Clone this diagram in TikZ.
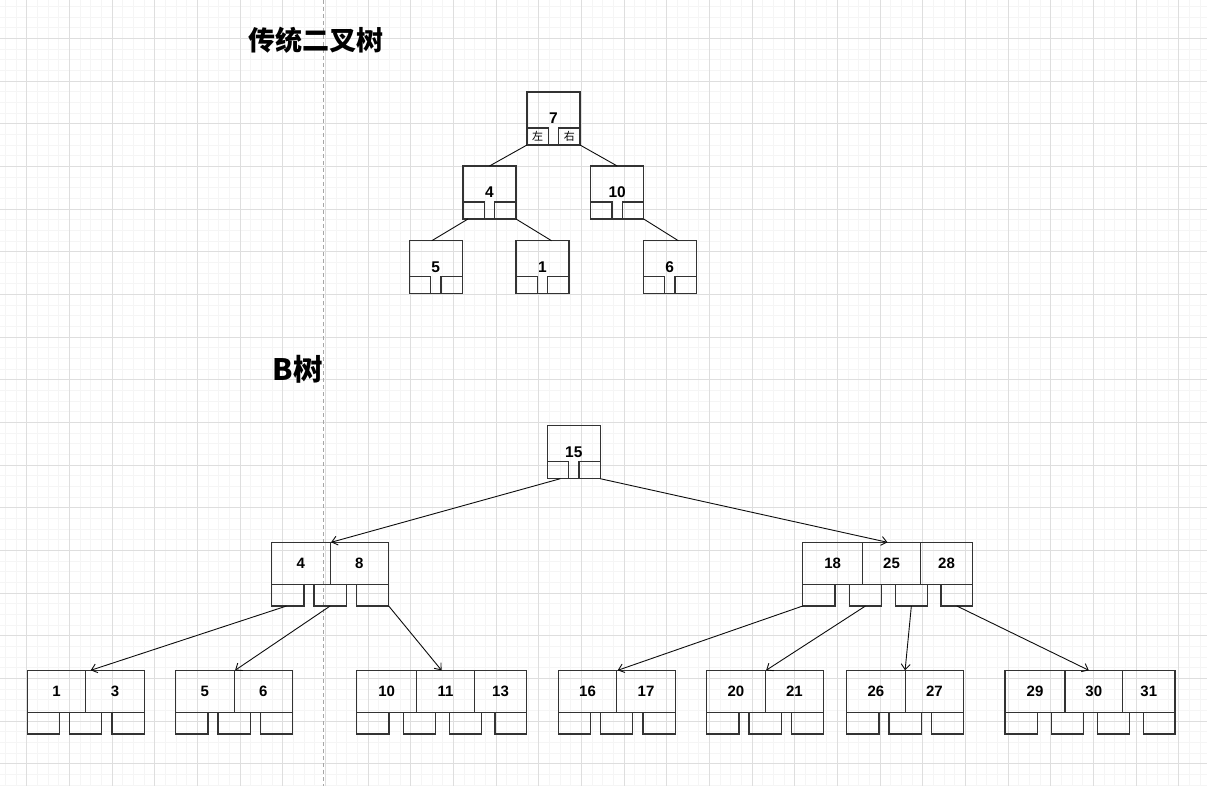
\documentclass[tikz,border=0pt]{standalone}
\usepackage{fontspec}
\setmainfont{Liberation Sans}
\newfontfamily\cjk{Noto Sans CJK SC}
\usetikzlibrary{arrows.meta}
\tikzset{
  cell/.style={draw=black!80, line width=1.1pt, inner sep=0pt, outer sep=0pt, minimum height=42, font=\fontsize{15}{17}\selectfont\bfseries},
  ptr/.style={draw=black!80, line width=1.1pt, inner sep=0pt, outer sep=0pt, minimum height=21.7},
  binbox/.style={draw=black!80, line width=1.1pt, inner sep=0pt, outer sep=0pt, minimum width=53, minimum height=53, font=\fontsize{15.5}{17}\selectfont\bfseries},
  binsub/.style={draw=black!80, line width=1.1pt, inner sep=0pt, outer sep=0pt, minimum height=17, font=\cjk\fontsize{11}{12}\selectfont},
  edge/.style={draw=black!95, line width=0.9pt},
  arr/.style={edge, -{Straight Barb[length=5.5pt,width=9pt,line width=0.9pt]}},
  title/.style={font=\cjk\bfseries\fontsize{27}{30}\selectfont, inner sep=0pt},
}
\newcommand\binnode[6]{%
  \node[binbox,anchor=north west] (#1) at ({#2},{#3}) {\raisebox{-1pt}{#4}};
  \node[binsub,minimum width=21.3,anchor=north west] (#1l) at ({#2},{#3+36}) {#5};
  \node[binsub,minimum width=21.3,anchor=north west] (#1r) at ({#2+31.7},{#3+36}) {#6};
}
\newcommand\twonode[5]{%
  \node[cell,minimum width=58.4,anchor=north west] (#1a) at ({#2},{#3}) {#4};
  \node[cell,minimum width=58.6,anchor=north west] (#1b) at ({#2+58.4},{#3}) {#5};
  \node[ptr,minimum width=32.3,anchor=north west] (#1p1) at ({#2},{#3+42}) {};
  \node[ptr,minimum width=32.3,anchor=north west] (#1p2) at ({#2+42.3},{#3+42}) {};
  \node[ptr,minimum width=32.3,anchor=north west] (#1p3) at ({#2+84.7},{#3+42}) {};
}
\newcommand\threenode[6]{%
  \node[cell,minimum width=60,anchor=north west] (#1a) at ({#2},{#3}) {#4};
  \node[cell,minimum width=57.6,anchor=north west] (#1b) at ({#2+60},{#3}) {#5};
  \node[cell,minimum width=52.4,anchor=north west] (#1c) at ({#2+117.6},{#3}) {#6};
  \node[ptr,minimum width=32.3,anchor=north west] (#1p1) at ({#2},{#3+42}) {};
  \node[ptr,minimum width=32.3,anchor=north west] (#1p2) at ({#2+46.6},{#3+42}) {};
  \node[ptr,minimum width=31.7,anchor=north west] (#1p3) at ({#2+92.8},{#3+42}) {};
  \node[ptr,minimum width=31.7,anchor=north west] (#1p4) at ({#2+138.3},{#3+42}) {};
}
\begin{document}
\begin{tikzpicture}[x=1pt,y=-1pt]
\useasboundingbox (0,0) rectangle (1207,786);
\fill[white] (0,0) rectangle (1207,786);
% grid
\foreach \i in {0,...,113} {
  \draw[color=black!4, line width=0.6pt] ({5.33+10.667*\i},0) -- ({5.33+10.667*\i},786);
}
\foreach \i in {0,...,73} {
  \draw[color=black!4, line width=0.6pt] (0,{6.3+10.667*\i}) -- (1207,{6.3+10.667*\i});
}
\foreach \i in {0,...,28} {
  \draw[color=black!13, line width=0.9pt] ({26.7+42.667*\i},0) -- ({26.7+42.667*\i},786);
}
\foreach \i in {0,...,18} {
  \draw[color=black!13, line width=0.9pt] (0,{38.3+42.667*\i}) -- (1207,{38.3+42.667*\i});
}
\draw[color=black!35, line width=0.8pt, dash pattern=on 4pt off 3pt] (323.3,0) -- (323.3,786);

% titles
\node[title] (t1) at (315.5,40) {传统二叉树};
\node[title, font=\cjk\bfseries\fontsize{29.5}{32}\selectfont] (t2) at (297.5,369) {B树};

% binary tree
\binnode{n7}{527}{92}{7}{左}{右}
\binnode{n4}{463}{166}{4}{}{}
\binnode{n10}{590.7}{166}{10}{}{}
\binnode{n5}{409.3}{240.7}{5}{}{}
\binnode{n1}{516}{240.7}{1}{}{}
\binnode{n6}{643.3}{240.7}{6}{}{}
\draw[edge] (n7.south west) -- (n4.north);
\draw[edge] (n7.south east) -- (n10.north);
\draw[edge] ([xshift=5pt]n4.south west) -- ([xshift=-4pt]n5.north);
\draw[edge] (n4.south east) -- ([xshift=9pt]n1.north);
\draw[edge] (n10.south east) -- ([xshift=8.5pt]n6.north);

% B tree
\binnode{r}{547.3}{425.7}{15}{}{}
\twonode{A}{271.7}{542.3}{4}{8}
\threenode{B}{802.7}{542.3}{18}{25}{28}
\twonode{La}{27.3}{670.3}{1}{3}
\twonode{Lb}{175.7}{670.3}{5}{6}
\threenode{Lc}{356.7}{670.3}{10}{11}{13}
\twonode{Ld}{558.3}{670.3}{16}{17}
\twonode{Le}{706.7}{670.3}{20}{21}
\twonode{Lf}{846.7}{670.3}{26}{27}
\threenode{Lg}{1005}{670.3}{29}{30}{31}

\draw[arr] ([xshift=2.4pt]rl.south) -- ([xshift=1pt]Aa.north east);
\draw[arr] (rr.south east) -- ([xshift=-4pt]Bb.north);
\draw[arr] ([xshift=-1.3pt]Ap1.south) -- ([xshift=5pt]Laa.north east);
\draw[arr] (Ap2.south) -- ([xshift=1pt]Lba.north east);
\draw[arr] (Ap3.south east) -- ([xshift=-4pt]Lcb.north);
\draw[arr] (Bp1.south west) -- ([xshift=1pt]Lda.north east);
\draw[arr] (Bp2.south) -- ([xshift=1pt]Lea.north east);
\draw[arr] (Bp3.south) -- (Lfa.north east);
\draw[arr] (Bp4.south) -- ([xshift=-5pt]Lgb.north);
\end{tikzpicture}
\end{document}
